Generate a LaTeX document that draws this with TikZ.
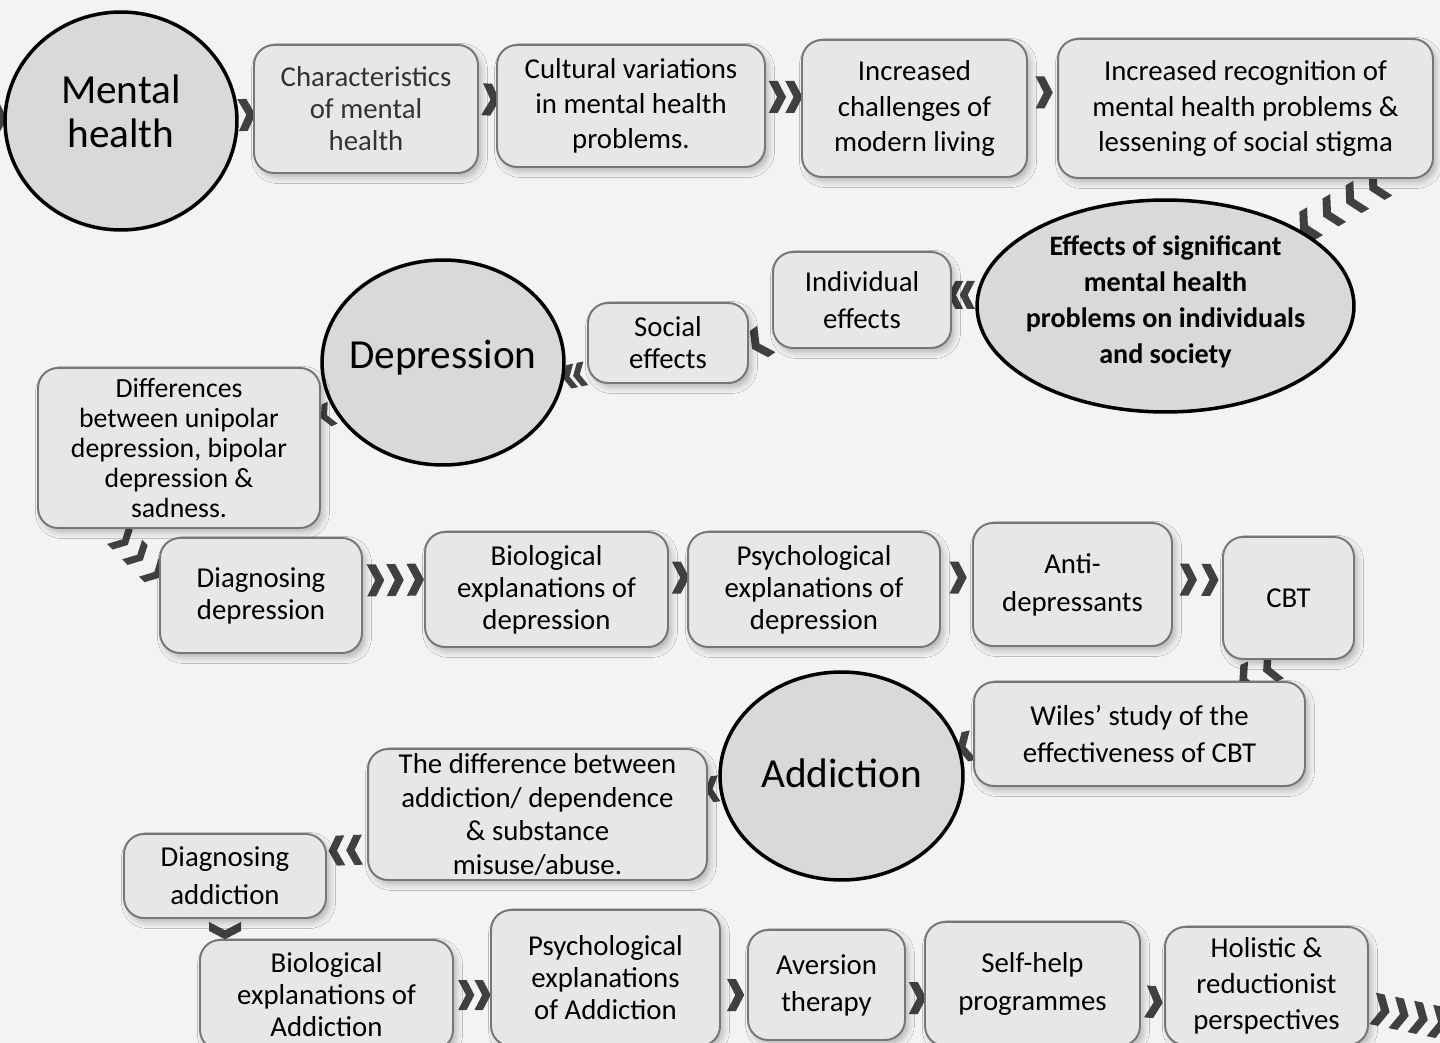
\documentclass[tikz,border=0pt]{standalone}
\usepackage{fontspec}
\setmainfont{Carlito}
\usetikzlibrary{shapes.geometric,shadows.blur,decorations.markings,backgrounds}

\definecolor{pagebg}{HTML}{F3F3F3}
\definecolor{boxfill}{HTML}{E7E7E7}
\definecolor{boxline}{HTML}{767676}
\definecolor{hubfill}{HTML}{D9D9D9}
\definecolor{chevcol}{HTML}{404040}

% one chevron, pointing along the path
\newcommand\chevsz{32}
\newcommand\chevtip{\fill[chevcol] (-0.22*\chevsz,0.5*\chevsz) -- (0.06*\chevsz,0.5*\chevsz) -- (0.32*\chevsz,0) -- (0.06*\chevsz,-0.5*\chevsz) -- (-0.22*\chevsz,-0.5*\chevsz) -- (0.04*\chevsz,0) -- cycle;}

\tikzset{
  box/.style={draw=boxline, line width=1.1pt, fill=boxfill, rounded corners=0.4cm, inner sep=0pt, align=center,
    font=\fontsize{16.4}{20}\selectfont,
    blur shadow={shadow xshift=0.07cm, shadow yshift=-0.09cm, shadow blur radius=0.12cm, shadow opacity=25}},
  sz/.style 2 args={minimum width=#1cm, minimum height=#2cm},
  hub/.style={ellipse, draw=black, line width=2pt, fill=hubfill, inner sep=0pt},
  hubtext/.style={font=\fontsize{23.5}{25}\selectfont, align=center},
  link/.style={postaction={decorate, decoration={markings, mark=at position #1 with {\chevtip}}}},
  chev size/.code={\renewcommand\chevsz{#1}},
}

\begin{document}
\begin{tikzpicture}[x=0.02cm, y=-0.02cm]
  \useasboundingbox (0,0) rectangle (1440,1043);

  % Mental health
  \node[hub, minimum width=4.64cm, minimum height=4.36cm, label={[hubtext, yshift=0.19cm]center:Mental\\health}] (mh) at (121,121) {};
  \node[box, sz={4.48}{2.56}, text=black!80, font=\fontsize{16.4}{18.2}\selectfont] (char) at (366,109) {Characteristics\\of mental\\health};
  \node[box, sz={5.36}{2.44}] (cult) at (631,106) {Cultural variations\\in mental health\\problems.};
  \node[box, sz={4.50}{2.74}] (chal) at (914.5,108.5) {Increased\\challenges of\\modern living};
  \node[box, sz={7.50}{2.78}] (recog) at (1245.5,108.5) {Increased recognition of\\mental health problems \&\\lessening of social stigma};
  \node[hub, minimum width=7.54cm, minimum height=4.24cm,
    label={[font=\bfseries\fontsize{16}{20.5}\selectfont, align=center, yshift=0.08cm]center:Effects of significant\\mental health\\problems on individuals\\and society}] (eff) at (1165.5,306) {};
  \node[box, sz={3.56}{1.92}, font=\fontsize{16.4}{21}\selectfont] (indiv) at (862,300) {Individual\\effects};
  \node[box, sz={3.20}{1.60}, font=\fontsize{16.4}{18.2}\selectfont] (social) at (668,343) {Social\\effects};

  % Depression
  \node[hub, minimum width=4.84cm, minimum height=4.10cm, label={[hubtext, yshift=0.1cm]center:Depression}] (dep) at (443,362.5) {};
  \node[box, sz={5.64}{3.20}, font=\fontsize{15.8}{17.1}\selectfont] (diff) at (179,448) {Differences\\between unipolar\\depression, bipolar\\depression \&\\sadness.};
  \node[box, sz={4.04}{2.30}, font=\fontsize{16.4}{18.2}\selectfont] (diagdep) at (261,595.5) {Diagnosing\\depression};
  \node[box, sz={4.86}{2.30}, font=\fontsize{16.4}{18.2}\selectfont] (biodep) at (546.5,589.5) {Biological\\explanations of\\depression};
  \node[box, sz={5.04}{2.30}, font=\fontsize{16.4}{18.2}\selectfont] (psydep) at (814,589.5) {Psychological\\explanations of\\depression};
  \node[box, sz={3.98}{2.46}, font=\fontsize{16.4}{21.6}\selectfont] (anti) at (1072.5,584.5) {Anti-\\depressants};
  \node[box, sz={2.62}{2.44}] (cbt) at (1288.5,598) {CBT};
  \node[box, sz={6.62}{2.08}, font=\fontsize{16.4}{21}\selectfont] (wiles) at (1139.5,734) {Wiles’ study of the\\effectiveness of CBT};

  % Addiction
  \node[hub, minimum width=4.86cm, minimum height=4.16cm, label={[hubtext, yshift=0.06cm]center:Addiction}] (add) at (841.5,776) {};
  \node[box, sz={6.78}{2.62}, font=\fontsize{16.4}{19.2}\selectfont] (diffadd) at (537.5,814.5) {The difference between\\addiction/ dependence\\\& substance\\misuse/abuse.};
  \node[box, sz={4.04}{1.68}, font=\fontsize{16.4}{21.6}\selectfont] (diagadd) at (225,876) {Diagnosing\\addiction};
  \node[box, sz={5.06}{2.20}, font=\fontsize{16.4}{18.2}\selectfont] (bioadd) at (326.5,995) {Biological\\explanations of\\Addiction};
  \node[box, sz={4.58}{2.72}, font=\fontsize{16.4}{18.2}\selectfont] (psyadd) at (605.5,978) {Psychological\\explanations\\of Addiction};
  \node[box, sz={3.14}{2.20}, font=\fontsize{16.4}{21}\selectfont] (avers) at (826.5,985) {Aversion\\therapy};
  \node[box, sz={4.30}{2.48}, font=\fontsize{16.4}{21.6}\selectfont] (selfhelp) at (1032.5,984) {Self-help\\programmes};
  \node[box, sz={4.06}{2.36}, font=\fontsize{16.4}{20.5}\selectfont] (holistic) at (1266.5,986) {Holistic \&\\reductionist\\perspectives};

  \coordinate (start) at (-20,118);
  \coordinate (finish) at (1475,1030);

  \begin{scope}[on background layer]
    \fill[pagebg] (0,0) rectangle (1440,1043);

    % chevrons, top row
    \path[link=0.72] (start) -- (mh);
    \path[link=0.45] (mh) -- (char);
    \path[link=0.6] ([yshift=0.2cm]char.east) -- ([yshift=0.12cm]cult.west);
    \path[link=0.28, link=0.75] ([yshift=0.18cm]cult.east) -- ([yshift=0.23cm]chal.west);
    \path[link=0.5] ([yshift=0.32cm]chal.east) -- ([yshift=0.32cm]recog.west);
    \path[link=0.12, link=0.38, link=0.64, link=0.9] ([xshift=-0.9cm]recog.south east) -- (eff.north east);
    \path[chev size=28, link=0.28, link=0.78] ([yshift=0.22cm]eff.west) -- ([yshift=0.1cm]indiv.east);
    \path[link=0.5] ([yshift=-0.7cm]indiv.west) -- ([yshift=-0.16cm]social.east);
    \path[chev size=24, link=0.3, link=0.78] ([yshift=-0.6cm]social.west) -- ([yshift=-0.3cm]dep.east);

    % chevrons, depression row
    \path[chev size=24, link=0.5] (dep) -- ([yshift=0.6cm]diff.east);
    \path[chev size=28, link=0.2, link=0.52, link=0.88] ([xshift=1.5cm]diff.south west) -- ([yshift=-0.8cm]diagdep.north west);
    \path[link=0.18, link=0.5, link=0.83] ([yshift=0.3cm]diagdep.east) -- ([yshift=0.2cm]biodep.west);
    \path[link=0.55] ([yshift=0.24cm]biodep.east) -- ([yshift=0.24cm]psydep.west);
    \path[link=0.5] ([yshift=0.24cm]psydep.east) -- ([yshift=0.14cm]anti.west);
    \path[link=0.28, link=0.72] ([yshift=0.1cm]anti.east) -- ([yshift=0.36cm]cbt.west);
    \path[chev size=30, link=0.35, link=0.85] (cbt.south) -- ([xshift=-1.3cm]wiles.north east);
    \path[chev size=30, link=0.5] ([yshift=-0.22cm]wiles.west) -- (add);

    % chevrons, addiction row
    \path[chev size=26, link=0.5] (add) -- ([yshift=0.5cm]diffadd.east);
    \path[chev size=30, link=0.28, link=0.72] ([yshift=-0.7cm]diffadd.west) -- ([yshift=0.5cm]diagadd.east);
    \path[chev size=32, link=0.5] (diagadd.south) -- (diagadd.south |- bioadd.north);
    \path[chev size=30, link=0.3, link=0.75] (bioadd.east) -- ([yshift=-0.34cm]psyadd.west);
    \path[link=0.5] ([yshift=-0.34cm]psyadd.east) -- ([yshift=-0.2cm]avers.west);
    \path[link=0.55] ([yshift=-0.26cm]avers.east) -- ([yshift=-0.28cm]selfhelp.west);
    \path[link=0.5] ([yshift=-0.34cm]selfhelp.east) -- ([yshift=-0.34cm]holistic.west);
    \path[link=0.1, link=0.28, link=0.46, link=0.64] (holistic) -- (finish);
  \end{scope}
\end{tikzpicture}
\end{document}
